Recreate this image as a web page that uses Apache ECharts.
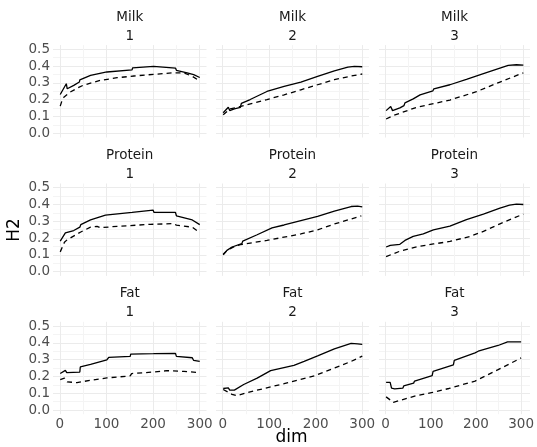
<!DOCTYPE html>
<html>
<head>
<meta charset="utf-8">
<script src="https://cdn.jsdelivr.net/npm/echarts@6/dist/echarts.min.js"></script>
<style>html,body{margin:0;padding:0;background:#fff}#c{width:537px;height:447px}</style>
</head>
<body>
<div id="c"></div>
<script>
// ---- data ----
var traits = ['Milk', 'Protein', 'Fat'];
var groups = ['1', '2', '3'];
var xTicks = [0, 100, 200, 300];
var yTicks = [0.0, 0.1, 0.2, 0.3, 0.4, 0.5];

var milk1Solid = [[1,0.231],[14,0.295],[16,0.265],[30,0.285],[42,0.305],[43,0.318],[66,0.345],[101,0.365],[155,0.378],[156,0.39],[201,0.398],[202,0.388],[248,0.388],[250,0.375],[273,0.36],[287,0.349],[300,0.332]];
var milk1Dash  = [[1,0.162],[6,0.205],[10,0.218],[14,0.228],[22,0.245],[37,0.268],[51,0.287],[87,0.315],[123,0.331],[159,0.341],[201,0.351],[244,0.36],[266,0.36],[284,0.339],[300,0.311]];
var milk2Solid = [[1,0.122],[12,0.155],[15,0.135],[25,0.145],[38,0.155],[40,0.178],[59,0.201],[95,0.249],[132,0.279],[168,0.305],[204,0.339],[240,0.372],[269,0.394],[283,0.398],[300,0.396]];
var milk2Dash  = [[1,0.11],[16,0.145],[45,0.165],[95,0.201],[132,0.229],[168,0.259],[204,0.289],[240,0.319],[276,0.341],[300,0.353]];
var milk3Solid = [[1,0.135],[11,0.159],[15,0.135],[31,0.151],[40,0.165],[42,0.181],[60,0.205],[75,0.229],[103,0.253],[105,0.265],[140,0.289],[176,0.321],[213,0.355],[249,0.388],[267,0.404],[285,0.408],[300,0.406]];
var milk3Dash  = [[1,0.085],[17,0.106],[68,0.155],[140,0.198],[198,0.248],[249,0.305],[300,0.36]];
var prot1Solid = [[1,0.182],[12,0.231],[15,0.225],[30,0.245],[43,0.265],[45,0.28],[66,0.308],[98,0.337],[155,0.353],[156,0.361],[200,0.367],[202,0.353],[248,0.353],[250,0.333],[284,0.308],[300,0.28]];
var prot1Dash  = [[1,0.118],[10,0.175],[15,0.188],[44,0.235],[66,0.265],[80,0.27],[87,0.262],[123,0.27],[194,0.282],[244,0.286],[250,0.277],[284,0.265],[294,0.245]];
var prot2Solid = [[1,0.104],[9,0.127],[20,0.147],[41,0.167],[43,0.182],[74,0.22],[106,0.261],[132,0.278],[168,0.304],[204,0.329],[240,0.361],[276,0.388],[290,0.39],[300,0.386]];
var prot2Dash  = [[1,0.10],[10,0.128],[25,0.15],[38,0.161],[95,0.186],[168,0.225],[204,0.249],[240,0.284],[276,0.314],[298,0.332]];
var prot3Solid = [[1,0.147],[10,0.157],[13,0.147],[31,0.163],[42,0.186],[60,0.21],[82,0.225],[104,0.249],[140,0.271],[176,0.31],[213,0.343],[249,0.378],[270,0.396],[285,0.402],[300,0.4]];
var prot3Dash  = [[1,0.09],[31,0.122],[68,0.148],[104,0.165],[140,0.18],[184,0.21],[213,0.24],[249,0.285],[300,0.343]];
var fat1Solid  = [[1,0.217],[12,0.236],[15,0.222],[43,0.226],[44,0.256],[66,0.272],[101,0.299],[105,0.313],[151,0.319],[152,0.333],[201,0.335],[248,0.337],[250,0.319],[284,0.311],[287,0.295],[300,0.289]];
var fat1Dash   = [[1,0.181],[10,0.19],[16,0.167],[37,0.163],[66,0.177],[101,0.191],[151,0.203],[154,0.217],[201,0.226],[230,0.234],[266,0.23],[300,0.222]];
var fat2Solid  = [[1,0.128],[12,0.132],[15,0.118],[25,0.118],[45,0.152],[74,0.19],[103,0.234],[153,0.266],[175,0.289],[204,0.322],[240,0.364],[276,0.396],[290,0.394],[300,0.39]];
var fat2Dash   = [[1,0.122],[20,0.093],[30,0.085],[59,0.108],[132,0.157],[197,0.203],[240,0.25],[276,0.289],[300,0.321]];
var fat3Solid  = [[1,0.165],[10,0.165],[13,0.13],[20,0.126],[38,0.13],[40,0.143],[62,0.16],[64,0.172],[103,0.205],[105,0.23],[150,0.269],[152,0.295],[198,0.34],[205,0.35],[249,0.384],[270,0.405],[300,0.405]];
var fat3Dash   = [[1,0.078],[17,0.046],[68,0.085],[104,0.105],[140,0.128],[198,0.172],[249,0.24],[300,0.31]];

var solidSets = [milk1Solid, milk2Solid, milk3Solid, prot1Solid, prot2Solid, prot3Solid, fat1Solid, fat2Solid, fat3Solid];
var dashSets  = [milk1Dash, milk2Dash, milk3Dash, prot1Dash, prot2Dash, prot3Dash, fat1Dash, fat2Dash, fat3Dash];

// ---- layout ----
var panelLeft = [53, 216, 379];
var panelWidth = [153.5, 153, 151];
var panelTop = [45.1, 183.5, 321.8];
var panelHeight = 92.4;
var FONT = 'DejaVu Sans';
var TEXT = 13.5;
var major = '#ebebeb', minor = '#f4f4f4';

var grids = [], xAxes = [], yAxes = [], series = [], graphics = [];
for (var r = 0; r < 3; r++) {
  for (var c = 0; c < 3; c++) {
    var i = r * 3 + c;
    var L = panelLeft[c], W = panelWidth[c], T = panelTop[r], H = panelHeight;
    var xPad = W * 14.5 / 329; // ggplot 5% expansion
    var yPad = H * 0.025 / 0.55;
    grids.push({left: L, top: T + yPad, width: W, height: H - 2 * yPad});
    grids.push({left: L + xPad, top: T, width: W - 2 * xPad, height: H});
    xAxes.push({gridIndex: 2 * i, type: 'value', min: 0, max: 1, show: false});
    xAxes.push({gridIndex: 2 * i + 1, type: 'value', min: xTicks[0], max: xTicks[xTicks.length - 1], interval: 100,
      axisLine: {show: false}, axisTick: {show: false},
      axisLabel: {show: r === 2, color: '#4d4d4d', fontFamily: FONT, fontSize: TEXT, margin: 3},
      splitLine: {show: true, lineStyle: {color: major, width: 1}},
      minorTick: {show: false, splitNumber: 2},
      minorSplitLine: {show: true, lineStyle: {color: minor, width: 1}}});
    yAxes.push({gridIndex: 2 * i, type: 'value', min: yTicks[0], max: yTicks[yTicks.length - 1], interval: 0.1,
      axisLine: {show: false}, axisTick: {show: false},
      axisLabel: {show: c === 0, color: '#4d4d4d', fontFamily: FONT, fontSize: TEXT, margin: 3,
        formatter: function (v) { return v.toFixed(1); }},
      splitLine: {show: true, lineStyle: {color: major, width: 1}},
      minorTick: {show: false, splitNumber: 2},
      minorSplitLine: {show: true, lineStyle: {color: minor, width: 1}}});
    yAxes.push({gridIndex: 2 * i + 1, type: 'value', min: -0.025, max: 0.525, show: false});
    series.push({type: 'line', xAxisIndex: 2 * i + 1, yAxisIndex: 2 * i + 1, data: solidSets[i],
      showSymbol: false, symbol: 'none', lineStyle: {color: '#000', width: 1.3, type: 'solid'}});
    series.push({type: 'line', xAxisIndex: 2 * i + 1, yAxisIndex: 2 * i + 1, data: dashSets[i],
      showSymbol: false, symbol: 'none', lineStyle: {color: '#000', width: 1.3, type: [5, 4]}});
    var cx = L + W / 2;
    graphics.push({type: 'text', x: cx, y: T - 28, style: {text: traits[r], textAlign: 'center', textVerticalAlign: 'middle',
      font: TEXT + 'px "' + FONT + '"', fill: '#1a1a1a'}});
    graphics.push({type: 'text', x: cx, y: T - 9, style: {text: groups[c], textAlign: 'center', textVerticalAlign: 'middle',
      font: TEXT + 'px "' + FONT + '"', fill: '#1a1a1a'}});
  }
}
graphics.push({type: 'text', x: 15, y: 230, rotation: Math.PI / 2,
  style: {text: 'H2', textAlign: 'center', textVerticalAlign: 'middle', font: '17px "' + FONT + '"', fill: '#000'}});
graphics.push({type: 'text', x: 291.5, y: 438,
  style: {text: 'dim', textAlign: 'center', textVerticalAlign: 'middle', font: '17px "' + FONT + '"', fill: '#000'}});

var chart = echarts.init(document.getElementById('c'), null, {renderer: 'canvas'});
chart.setOption({
  animation: false,
  backgroundColor: '#fff',
  grid: grids, xAxis: xAxes, yAxis: yAxes, series: series, graphic: graphics
});
</script>
</body>
</html>
